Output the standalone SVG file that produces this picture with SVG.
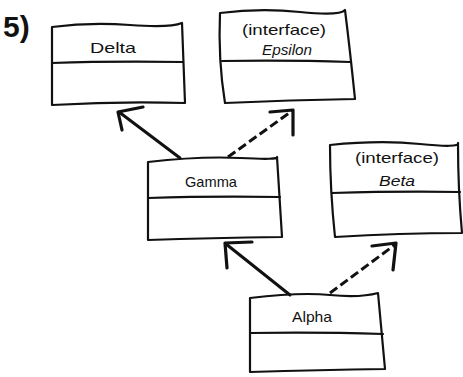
<svg xmlns="http://www.w3.org/2000/svg" width="463" height="377" viewBox="0 0 463 377">
<style>
.box{fill:none;stroke:#111;stroke-width:2.2;stroke-linejoin:round;stroke-linecap:round}
.lbl{font-family:"Liberation Sans",Arial,sans-serif;font-size:15px;fill:#111;text-anchor:middle}
.it{font-style:italic}
.solid{fill:none;stroke:#111;stroke-width:3;stroke-linecap:round;stroke-linejoin:round}
.dash{fill:none;stroke:#111;stroke-width:3;stroke-dasharray:9 4;stroke-linecap:butt}
.head{fill:none;stroke:#111;stroke-width:3.2;stroke-linecap:round;stroke-linejoin:round}
</style>
<rect width="463" height="377" fill="#fff"/>
<text x="3" y="37" font-family="Liberation Sans,Arial,sans-serif" font-size="30" font-weight="bold" fill="#111">5)</text>
<g id="delta">
<path class="box" d="M52,27 Q90,22 130,25 T182,23 L185,103 Q120,101 52,105 Z"/>
<path class="box" d="M52,63 Q110,61 183,62"/>
<text class="lbl" x="113" y="53" textLength="46" lengthAdjust="spacingAndGlyphs">Delta</text>
</g>
<g id="epsilon">
<path class="box" d="M220,13 Q260,8 300,12 T345,10 Q350,50 355,99 Q290,100 225,103 Q218,60 220,13 Z"/>
<path class="box" d="M222,61 Q290,60 350,62"/>
<text class="lbl" x="284" y="35" textLength="84" lengthAdjust="spacingAndGlyphs">(interface)</text>
<text class="lbl it" x="287" y="55" textLength="50" lengthAdjust="spacingAndGlyphs">Epsilon</text>
</g>
<g id="gamma">
<path class="box" d="M148,162 Q200,156 240,158 T277,157 L282,237 Q210,238 148,240 Z"/>
<path class="box" d="M148,198 Q210,196 280,197"/>
<text class="lbl" x="211" y="187" textLength="52" lengthAdjust="spacingAndGlyphs">Gamma</text>
</g>
<g id="beta">
<path class="box" d="M330,145 Q380,140 420,144 T458,143 Q458,190 462,233 Q400,233 335,237 Q330,190 330,145 Z"/>
<path class="box" d="M332,193 Q400,191 460,192"/>
<text class="lbl" x="397" y="163" textLength="84" lengthAdjust="spacingAndGlyphs">(interface)</text>
<text class="lbl it" x="397" y="186" textLength="36" lengthAdjust="spacingAndGlyphs">Beta</text>
</g>
<g id="alpha">
<path class="box" d="M250,298 Q300,292 330,295 T378,293 L385,369 Q320,370 250,372 Z"/>
<path class="box" d="M250,333 Q320,332 383,334"/>
<text class="lbl" x="312" y="322" textLength="40" lengthAdjust="spacingAndGlyphs">Alpha</text>
</g>
<g id="connectors">
<path class="solid" d="M180,158 L119,112"/>
<path class="head" d="M143,107 L118,112 L122,130"/>
<path class="dash" d="M228,157 L292,111"/>
<path class="head" d="M270,112 L293,110 L293,135"/>
<path class="solid" d="M290,295 L226,244"/>
<path class="head" d="M252,242 L225,243 L227,268"/>
<path class="dash" d="M330,293 L396,244"/>
<path class="head" d="M372,246 L396,243 L393,270"/>
</g>
</svg>
